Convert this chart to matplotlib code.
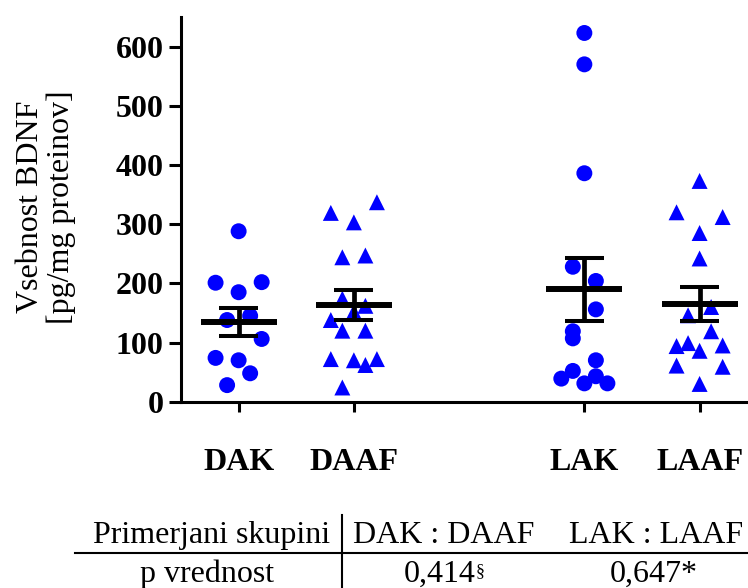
import numpy as np
import matplotlib
matplotlib.use("Agg")
import matplotlib.pyplot as plt
from matplotlib.lines import Line2D

plt.rcParams['font.family'] = ['Liberation Serif', 'DejaVu Serif']

# --- data -------------------------------------------------------------
groups = ["DAK", "DAAF", "LAK", "LAAF"]

dak = [288, 201, 202, 185, 138, 145, 106, 74, 70, 48, 28]
daaf = [337, 319, 303, 244, 247, 174, 162, 152, 138, 120, 120, 72, 70, 72, 62, 24]
lak = [623, 570, 386, 228, 204, 156, 119, 107, 70, 52, 39, 43, 31, 31]
laaf = [373, 320, 312, 285, 242, 160, 146, 119, 94, 99, 86, 95, 61, 59, 30]

# horizontal slot of each point within its column (scatter-dot spreading)
dak_slot = [0, -2, 2, 0, -1, 1, 2, -2, 0, 1, -1]
daaf_slot = [2, -2, 0, -1, 1, -1, 1, 0, -2, -1, 1, -2, 0, 2, 1, -1]
lak_slot = [0, 0, 0, -1, 1, 1, -1, -1, 1, -1, -2, 1, 0, 2]
laaf_slot = [0, -2, 2, 0, 0, 1, -1, 1, -2, -1, 0, 2, -2, 2, 0]

yticks = [0, 100, 200, 300, 400, 500, 600]

table_header = ["Primerjani skupini", "DAK : DAAF", "LAK : LAAF"]
table_row_label = "p vrednost"
p_values = ["0,414", "0,647"]
p_notes = ["§", "*"]

# --- layout ------------------------------------------------------------
W, H = 748, 588
positions = [1, 2, 4, 5]
markers = ["o", "^", "o", "^"]
values = [dak, daaf, lak, laaf]
slots = [dak_slot, daaf_slot, lak_slot, laaf_slot]
slot_step = 0.1
blue = "#0000ff"
fs = 23


def fx(px):
    return px / W


def fy(py):
    return 1 - py / H


fig = plt.figure(figsize=(W / 100, H / 100), dpi=100)
ax = fig.add_axes([fx(181), fy(401.7), (W - 181) / W, (401.7 - 17) / H])

for pos, mk, vals, sl in zip(positions, markers, values, slots):
    v = np.asarray(vals, dtype=float)
    x = pos + slot_step * np.asarray(sl, dtype=float)
    ax.scatter(x, v, s=132, marker=mk, color=blue, edgecolors="none",
               zorder=2, clip_on=False)
    mean = v.mean()
    sem = v.std(ddof=1) / np.sqrt(len(v))
    ax.hlines(mean, pos - 0.33, pos + 0.33, color="black", lw=4.3, zorder=3)
    ax.vlines(pos, mean - sem, mean + sem, color="black", lw=3.4, zorder=3)
    ax.hlines([mean - sem, mean + sem], pos - 0.17, pos + 0.17,
              color="black", lw=2.9, zorder=3)

ax.set_xlim(0.5, 5.42)
ax.set_ylim(0, 650)
ax.set_yticks(yticks)
ax.set_xticks(positions)
ax.set_xticklabels(groups)

for side in ("top", "right"):
    ax.spines[side].set_visible(False)
for side in ("left", "bottom"):
    ax.spines[side].set_linewidth(2.2)

ax.tick_params(axis="y", length=8.6, width=2.2, labelsize=fs, pad=4)
ax.tick_params(axis="x", length=7.5, width=2.2, labelsize=fs, pad=26)
for lab in ax.get_xticklabels() + ax.get_yticklabels():
    lab.set_fontweight("bold")

fig.text(fx(46), fy(207), "Vsebnost BDNF\n[pg/mg proteinov]", rotation=90,
         ha="center", va="center", multialignment="center", fontsize=fs,
         linespacing=1.1)

# --- comparison table --------------------------------------------------
fig.text(fx(211.5), fy(543), table_header[0], ha="center", va="baseline", fontsize=fs)
fig.text(fx(444), fy(543), table_header[1], ha="center", va="baseline", fontsize=fs)
fig.text(fx(656), fy(543), table_header[2], ha="center", va="baseline", fontsize=fs)

fig.text(fx(207.5), fy(582), table_row_label, ha="center", va="baseline", fontsize=fs)
fig.text(fx(476), fy(582), p_values[0], ha="right", va="baseline", fontsize=fs)
fig.text(fx(476), fy(563), p_notes[0], ha="left", va="top", fontsize=13)
fig.text(fx(654), fy(582), p_values[1] + p_notes[1], ha="center", va="baseline",
         fontsize=fs)

fig.add_artist(Line2D([fx(75), fx(W)], [fy(552.5), fy(552.5)],
                      transform=fig.transFigure, color="black", lw=1.5))
fig.add_artist(Line2D([fx(342), fx(342)], [fy(515), fy(H)],
                      transform=fig.transFigure, color="black", lw=1.5))

fig.savefig("out.png", dpi=100)
